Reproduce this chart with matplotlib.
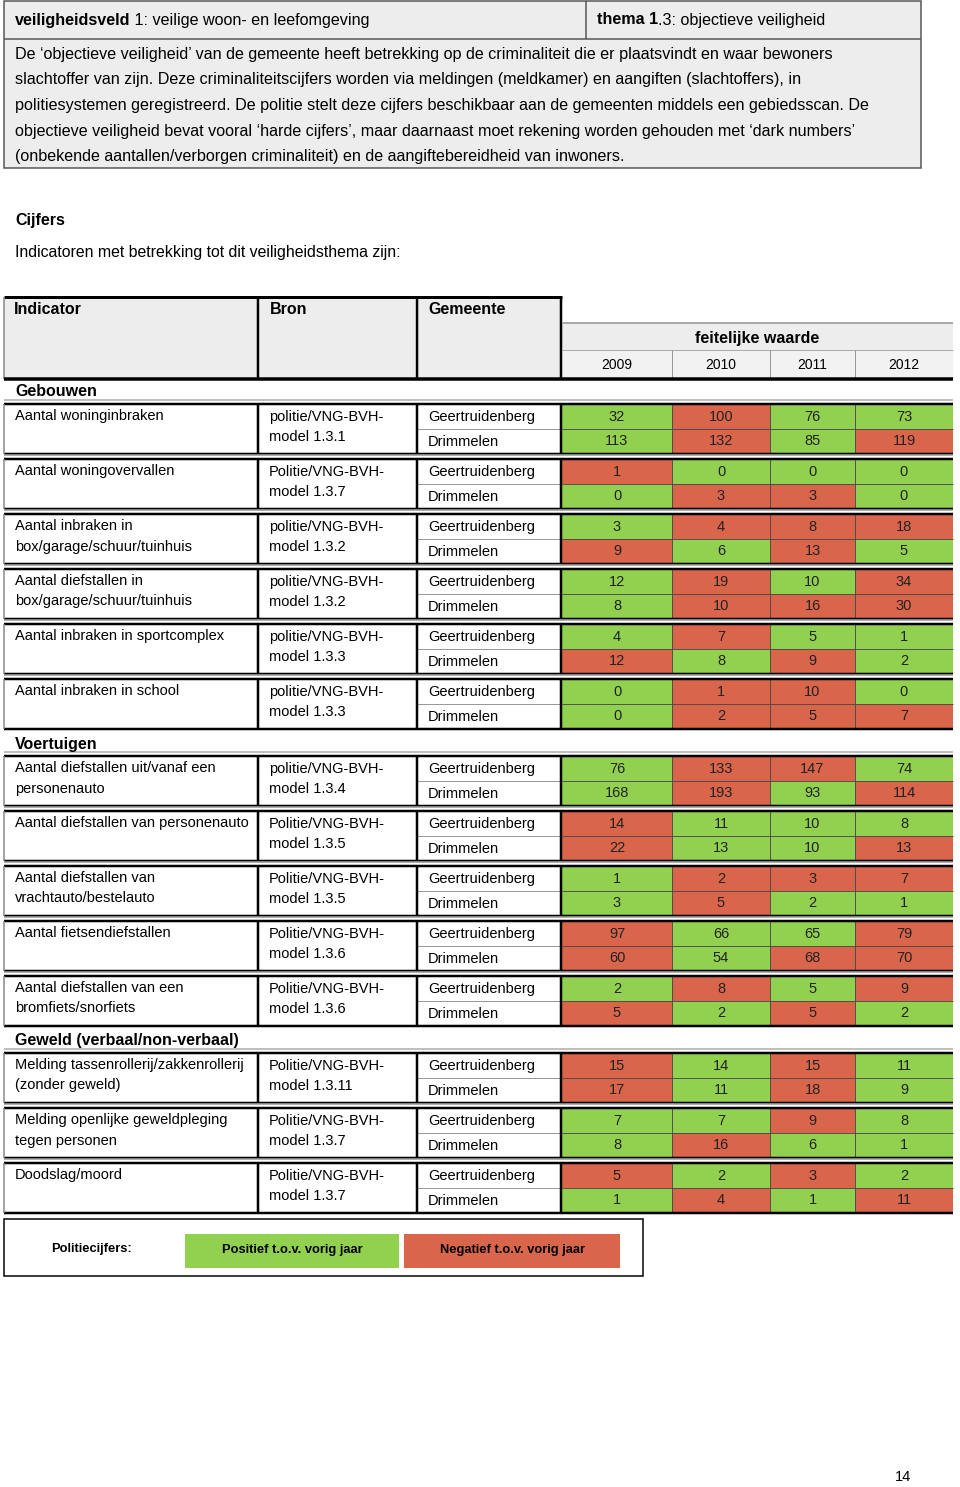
import matplotlib
matplotlib.use("Agg")
import matplotlib.pyplot as plt
from matplotlib.patches import Rectangle

plt.rcParams['font.family'] = ['Liberation Sans', 'DejaVu Sans']

# --- data ---
kop_links = ("veiligheidsveld", " 1: veilige woon- en leefomgeving")
kop_rechts = ("thema 1", ".3: objectieve veiligheid")
tekst = [
    "De \u2018objectieve veiligheid\u2019 van de gemeente heeft betrekking op de criminaliteit die er plaatsvindt en waar bewoners",
    "slachtoffer van zijn. Deze criminaliteitscijfers worden via meldingen (meldkamer) en aangiften (slachtoffers), in",
    "politiesystemen geregistreerd. De politie stelt deze cijfers beschikbaar aan de gemeenten middels een gebiedsscan. De",
    "objectieve veiligheid bevat vooral \u2018harde cijfers\u2019, maar daarnaast moet rekening worden gehouden met \u2018dark numbers\u2019",
    "(onbekende aantallen/verborgen criminaliteit) en de aangiftebereidheid van inwoners.",
]
jaren = ["2009", "2010", "2011", "2012"]
gemeenten = ["Geertruidenberg", "Drimmelen"]
secties = [("Gebouwen", 6), ("Voertuigen", 5), ("Geweld (verbaal/non-verbaal)", 3)]

indicatoren = [
    "Aantal woninginbraken",
    "Aantal woningovervallen",
    "Aantal inbraken in\nbox/garage/schuur/tuinhuis",
    "Aantal diefstallen in\nbox/garage/schuur/tuinhuis",
    "Aantal inbraken in sportcomplex",
    "Aantal inbraken in school",
    "Aantal diefstallen uit/vanaf een\npersonenauto",
    "Aantal diefstallen van personenauto",
    "Aantal diefstallen van\nvrachtauto/bestelauto",
    "Aantal fietsendiefstallen",
    "Aantal diefstallen van een\nbromfiets/snorfiets",
    "Melding tassenrollerij/zakkenrollerij\n(zonder geweld)",
    "Melding openlijke geweldpleging\ntegen personen",
    "Doodslag/moord",
]
bronnen = [
    "politie/VNG-BVH-\nmodel 1.3.1",
    "Politie/VNG-BVH-\nmodel 1.3.7",
    "politie/VNG-BVH-\nmodel 1.3.2",
    "politie/VNG-BVH-\nmodel 1.3.2",
    "politie/VNG-BVH-\nmodel 1.3.3",
    "politie/VNG-BVH-\nmodel 1.3.3",
    "politie/VNG-BVH-\nmodel 1.3.4",
    "Politie/VNG-BVH-\nmodel 1.3.5",
    "Politie/VNG-BVH-\nmodel 1.3.5",
    "Politie/VNG-BVH-\nmodel 1.3.6",
    "Politie/VNG-BVH-\nmodel 1.3.6",
    "Politie/VNG-BVH-\nmodel 1.3.11",
    "Politie/VNG-BVH-\nmodel 1.3.7",
    "Politie/VNG-BVH-\nmodel 1.3.7",
]
geertruidenberg = [
    [32, 100, 76, 73], [1, 0, 0, 0], [3, 4, 8, 18], [12, 19, 10, 34],
    [4, 7, 5, 1], [0, 1, 10, 0], [76, 133, 147, 74], [14, 11, 10, 8],
    [1, 2, 3, 7], [97, 66, 65, 79], [2, 8, 5, 9], [15, 14, 15, 11],
    [7, 7, 9, 8], [5, 2, 3, 2],
]
drimmelen = [
    [113, 132, 85, 119], [0, 3, 3, 0], [9, 6, 13, 5], [8, 10, 16, 30],
    [12, 8, 9, 2], [0, 2, 5, 7], [168, 193, 93, 114], [22, 13, 10, 13],
    [3, 5, 2, 1], [60, 54, 68, 70], [5, 2, 5, 2], [17, 11, 18, 9],
    [8, 16, 6, 1], [1, 4, 1, 11],
]
# g = positief t.o.v. vorig jaar, r = negatief
kleur_g = ["grgg", "rggg", "grrr", "grgr", "grgg", "grrg", "grrg",
           "rggg", "grrr", "rggr", "grgr", "rgrg", "ggrg", "rgrg"]
kleur_d = ["grgr", "grrg", "rgrg", "grrr", "rgrg", "grrr", "grgr",
           "rggr", "grgg", "rgrr", "rgrg", "rgrg", "grgg", "grgr"]

GROEN = "#92D050"
ROOD = "#D9654B"
GRIJS = "#EDEDED"

fig = plt.figure(figsize=(9.6, 14.87), dpi=100)
ax = fig.add_axes([0, 0, 1, 1])
ax.set_xlim(0, 960)
ax.set_ylim(1487, 0)
ax.axis('off')
renderer = fig.canvas.get_renderer()

FS = 10.5
FS_TEKST = 11.6


def px(w):
    return w * 0.72


def lijn(x0, x1, y0, y1, c="black", w=1.0):
    ax.plot([x0, x1], [y0, y1], color=c, lw=px(w), solid_capstyle='butt')


def gemengd(x, y, vet, rest, size=FS):
    t = ax.text(x, y, vet, fontsize=size, fontweight='bold', va='center')
    bb = t.get_window_extent(renderer)
    x1 = ax.transData.inverted().transform((bb.x1, bb.y0))[0]
    ax.text(x1, y, rest, fontsize=size, va='center')


# --- kader bovenaan ---
ax.add_patch(Rectangle((4, 1), 917, 167, facecolor=GRIJS, edgecolor="#555555", lw=px(1.5)))
lijn(4, 921, 39, 39, "#555555", 1.5)
lijn(586, 586, 1, 39, "#555555", 1.5)
gemengd(15, 20, *kop_links, size=FS_TEKST)
gemengd(597, 20, *kop_rechts, size=FS_TEKST)
for i, regel in enumerate(tekst):
    ax.text(15, 54 + i * 25.7, regel, fontsize=FS_TEKST, va='center')

ax.text(15, 220, "Cijfers", fontsize=11.5, fontweight='bold', va='center')
ax.text(15, 252, "Indicatoren met betrekking tot dit veiligheidsthema zijn:", fontsize=11.4, va='center')

# --- kolommen ---
kol_ind, kol_bron, kol_gem = 4, 259, 417
kol_jaar = [562, 672, 770, 855, 953]
links = 4
rechts = kol_jaar[-1]

# --- tabelkop ---
kop_top, kop_bodem = 297, 379
for x0, x1, naam in [(kol_ind, kol_bron - 2, "Indicator"), (kol_bron + 1, kol_gem - 2, "Bron"),
                     (kol_gem + 1, kol_jaar[0] - 2, "Gemeente")]:
    ax.add_patch(Rectangle((x0, kop_top), x1 - x0, kop_bodem - kop_top, facecolor=GRIJS, edgecolor='none'))
    ax.text(x0 + 10, kop_top + 12, naam, fontsize=11.5, fontweight='bold', va='center')
lijn(links, kol_jaar[0], kop_top, kop_top, "black", 3)
for x in [kol_bron - 1, kol_gem, kol_jaar[0] - 1]:
    lijn(x, x, kop_top, kop_bodem, "black", 2.5)
lijn(links, links, kop_top, kop_bodem, "#888888", 1.5)
ax.add_patch(Rectangle((kol_jaar[0], 323), rechts - kol_jaar[0], 27, facecolor=GRIJS, edgecolor='none'))
ax.add_patch(Rectangle((kol_jaar[0], 350), rechts - kol_jaar[0], 29, facecolor="#F2F2F2", edgecolor='none'))
lijn(kol_jaar[0], rechts, 323, 323, "#AAAAAA", 2)
lijn(kol_jaar[0], rechts, 350, 350, "#AAAAAA", 1)
ax.text((kol_jaar[0] + rechts) / 2, 338, "feitelijke waarde", fontsize=11.5, fontweight='bold', va='center', ha='center')
for j, jaar in enumerate(jaren):
    ax.text((kol_jaar[j] + kol_jaar[j + 1]) / 2, 365, jaar, fontsize=10, va='center', ha='center')
    if j > 0:
        lijn(kol_jaar[j], kol_jaar[j], 350, kop_bodem, "#999999", 1)
lijn(links, rechts, kop_bodem, kop_bodem, "black", 3.5)

# --- rijen ---
HOOGTE = 50
STAP = 55
y = 382
rij = 0
for sectie, aantal in secties:
    ax.text(15, y + 10, sectie, fontsize=11.5, fontweight='bold', va='center')
    y += 22
    for _ in range(aantal):
        t = y
        m = t + HOOGTE / 2
        # cellen met kleur
        for s, (waarden, kleuren) in enumerate([(geertruidenberg[rij], kleur_g[rij]),
                                                (drimmelen[rij], kleur_d[rij])]):
            for j in range(4):
                ax.add_patch(Rectangle((kol_jaar[j], t + s * 25), kol_jaar[j + 1] - kol_jaar[j], 25,
                                       facecolor=GROEN if kleuren[j] == "g" else ROOD, edgecolor='none'))
                ax.text((kol_jaar[j] + kol_jaar[j + 1]) / 2, t + 13 + s * 24, str(waarden[j]),
                        fontsize=FS, ha='center', va='center', color="#222222")
            ax.text(kol_gem + 11, t + 13 + s * 25, gemeenten[s], fontsize=FS, va='center')
        for j in range(1, 4):
            lijn(kol_jaar[j], kol_jaar[j], t, t + HOOGTE, "#4A4A4A", 0.9)
        lijn(kol_jaar[0], rechts, m, m, "#4A4A4A", 0.9)
        lijn(kol_gem, kol_jaar[0], m, m, "#999999", 1)
        # tekst links
        for i, regel in enumerate(indicatoren[rij].split("\n")):
            ax.text(15, t + 12 + i * 20.5, regel, fontsize=FS, va='center')
        for i, regel in enumerate(bronnen[rij].split("\n")):
            ax.text(kol_bron + 10, t + 13 + i * 20, regel, fontsize=FS, va='center')
        # randen
        lijn(links, rechts, t - 4, t - 4, "#AAAAAA", 1.5)
        lijn(links, rechts, t, t, "black", 2.5)
        lijn(links, rechts, t + HOOGTE, t + HOOGTE, "black", 2.5)
        for x in [kol_bron - 1, kol_gem, kol_jaar[0] - 1]:
            lijn(x, x, t, t + HOOGTE, "black", 2.5)
        lijn(links, links, t, t + HOOGTE, "#888888", 1.5)
        y += STAP
        rij += 1

# --- legenda ---
ly = y + 1
ax.add_patch(Rectangle((4, ly), 639, 57, facecolor='white', edgecolor='black', lw=px(1.5)))
ax.text(92, ly + 30, "Politiecijfers:", fontsize=9.3, fontweight='bold', va='center', ha='center')
ax.add_patch(Rectangle((185, ly + 15), 214, 34, facecolor=GROEN, edgecolor='none'))
ax.add_patch(Rectangle((404, ly + 15), 216, 34, facecolor=ROOD, edgecolor='none'))
ax.text(292, ly + 31, "Positief t.o.v. vorig jaar", fontsize=9.3, fontweight='bold', va='center', ha='center')
ax.text(512, ly + 31, "Negatief t.o.v. vorig jaar", fontsize=9.3, fontweight='bold', va='center', ha='center')

ax.text(903, 1477, "14", fontsize=FS, va='center', ha='center')

fig.savefig("out.png", dpi=100)
